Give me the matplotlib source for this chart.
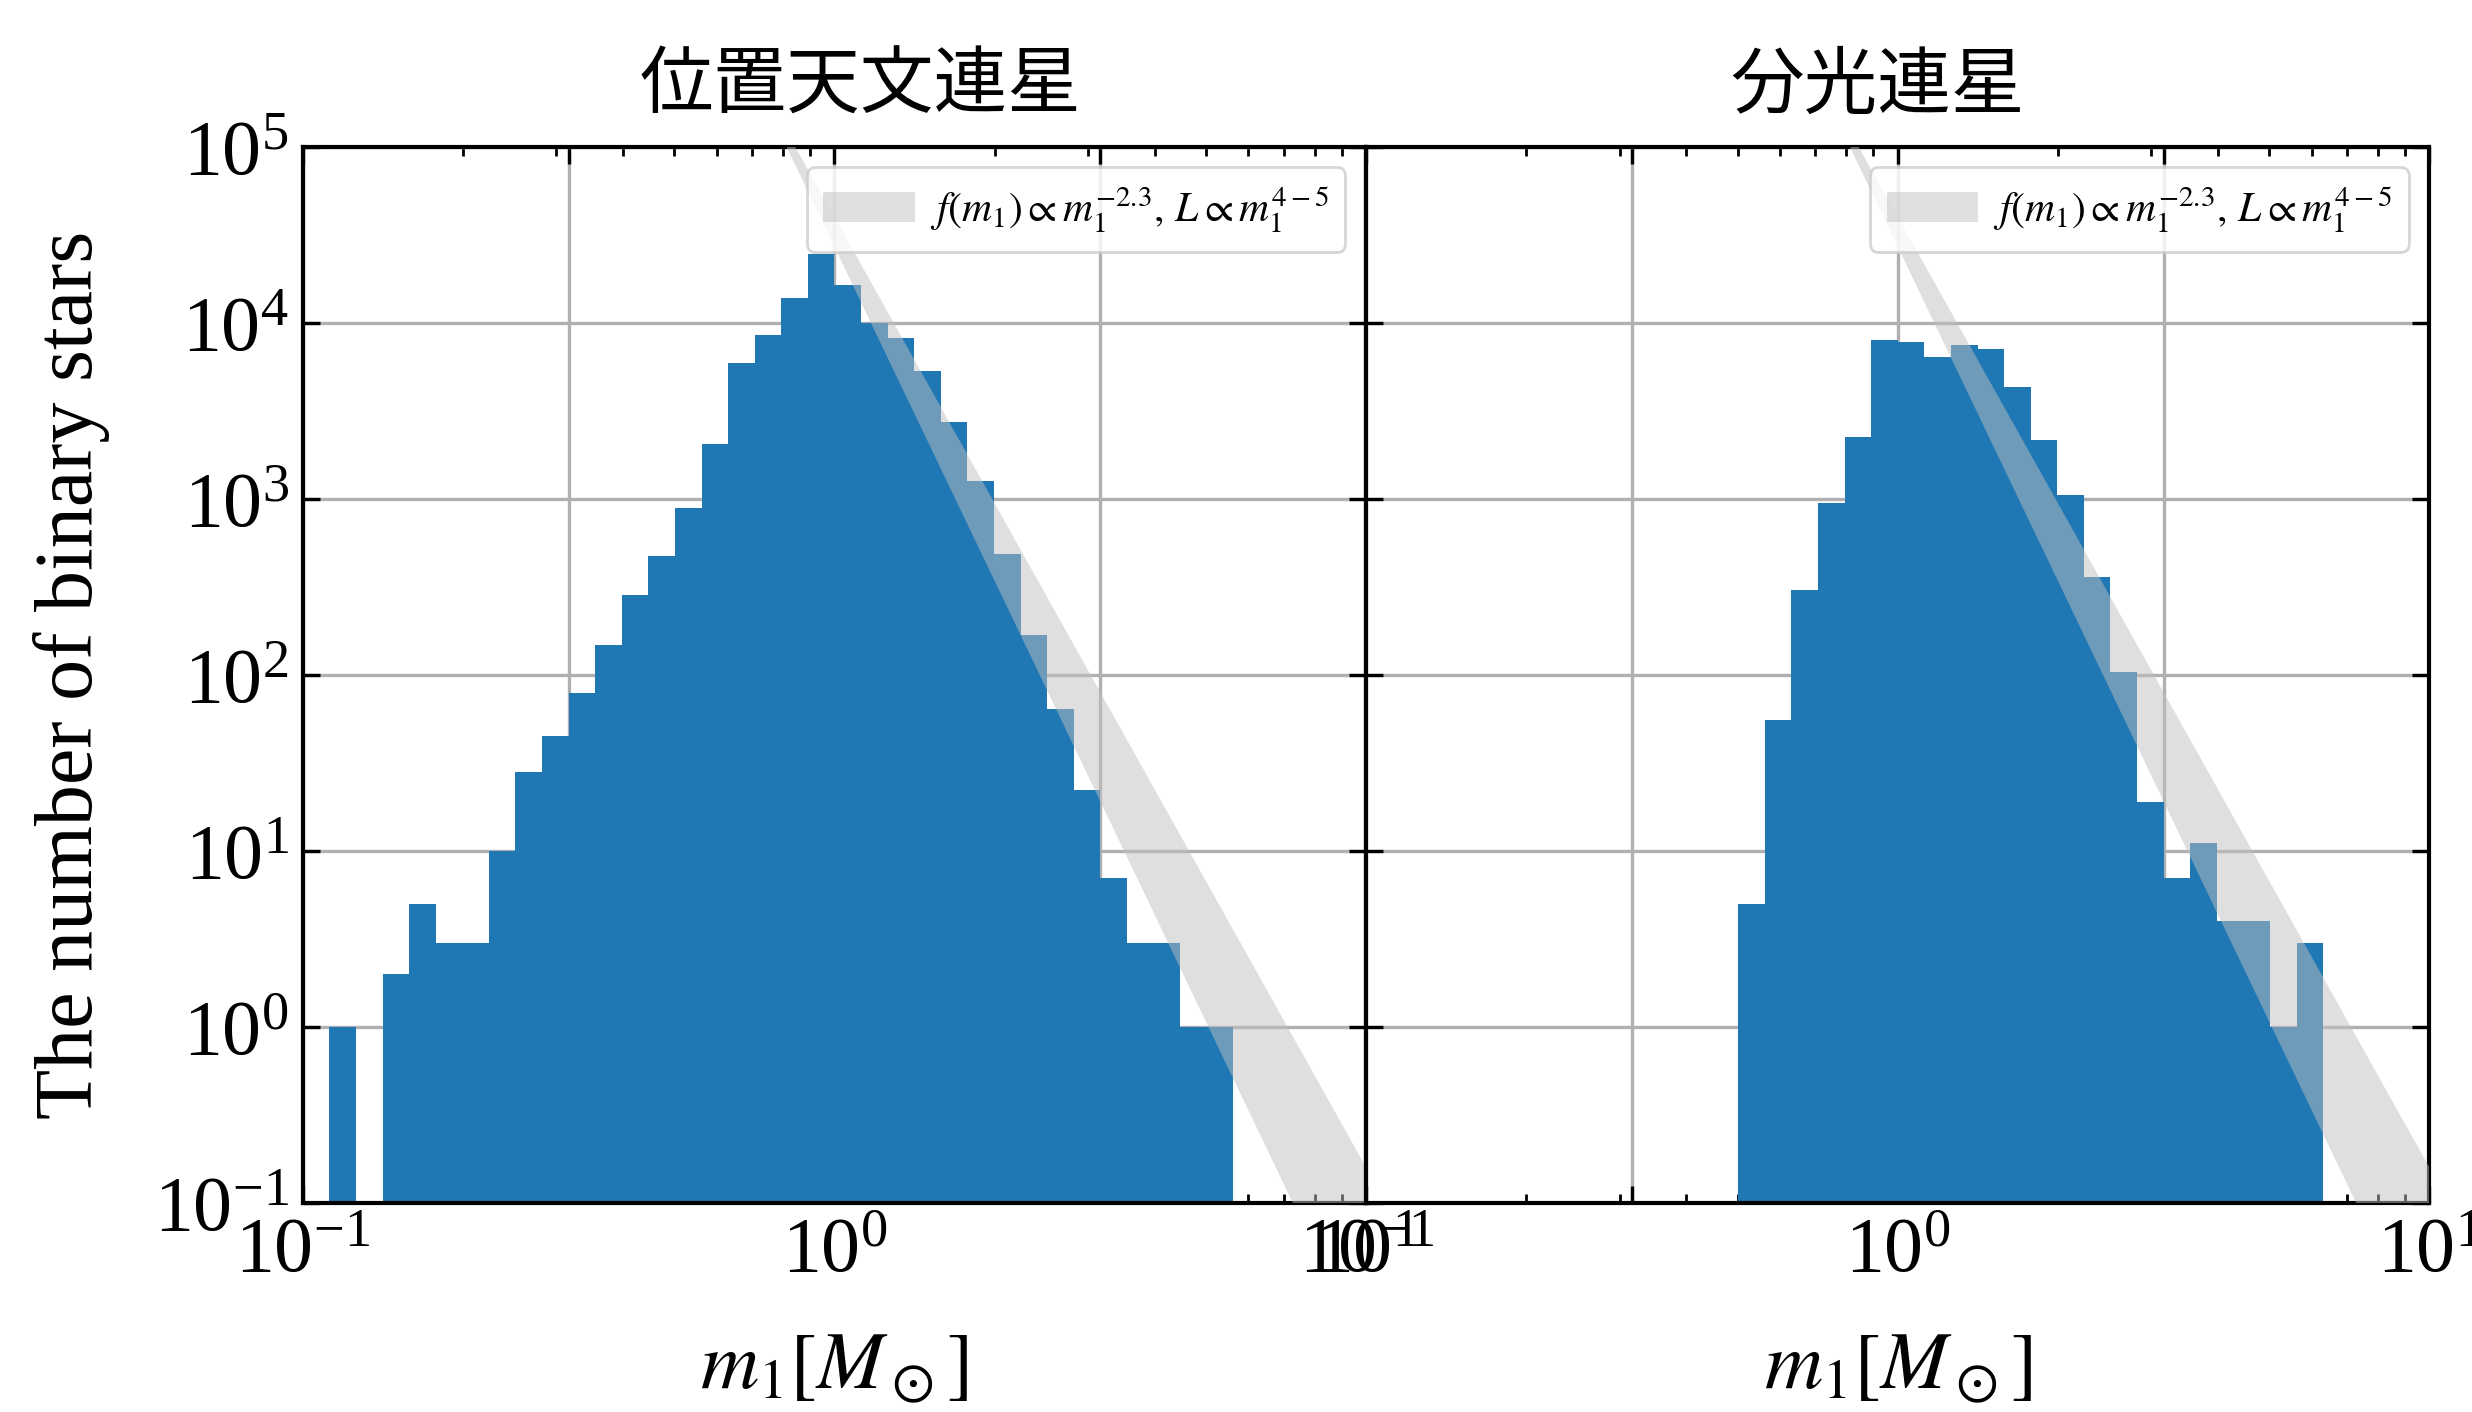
import matplotlib
matplotlib.use("Agg")
import matplotlib.pyplot as plt
import numpy as np
from matplotlib.ticker import FixedLocator, LogFormatterSciNotation, NullLocator

plt.rcParams["font.family"] = ["Liberation Serif", "Noto Sans CJK JP"]
plt.rcParams["mathtext.fontset"] = "stix"

# 質量ビン (log10 m1, 0.05 dex 刻み)
log_edges = np.arange(-1.0, 1.0001, 0.05)

# 位置天文連星の各ビンの個数
astrometric_counts = [0, 1, 0, 2, 5, 3, 3, 10, 28, 45,
                      79, 147, 282, 471, 885, 2048, 5875, 8506, 13840, 24400,
                      16400, 10000, 8130, 5320, 2730, 1259, 484, 169, 64, 22,
                      7, 3, 3, 1, 1, 0, 0, 0, 0, 0]

# 分光連星の各ビンの個数
spectroscopic_counts = [0, 0, 0, 0, 0, 0, 0, 0, 0, 0,
                        0, 0, 0, 0, 5, 55, 303, 943, 2237, 7980,
                        7770, 6370, 7500, 7100, 4330, 2160, 1050, 360, 103, 19,
                        7, 11, 4, 4, 1, 3, 0, 0, 0, 0]

titles = ["位置天文連星", "分光連星"]
title_x = [0.524, 0.481]

# f(m1) ∝ m1^-2.3, L ∝ m1^(4-5) から来る傾きの帯 (log10 振幅, べき)
band_upper = (4.60, -5.4)
band_lower = (4.43, -6.3)
band_label = r"$f(m_1)\propto m_1^{-2.3},\, L\propto m_1^{4-5}$"

edges = 10 ** log_edges
centers = np.sqrt(edges[:-1] * edges[1:])
m = np.logspace(-1, 1, 400)
upper = 10 ** band_upper[0] * m ** band_upper[1]
lower = 10 ** band_lower[0] * m ** band_lower[1]

fig, axes = plt.subplots(1, 2, figsize=(12.36, 7.06), dpi=200, sharey=True)
fig.subplots_adjust(left=0.1225, right=0.9828, bottom=0.1482, top=0.8962, wspace=0)

x_major = 10 ** np.arange(-1.0, 1.01, 0.5)
x_minor = np.concatenate([np.arange(2, 10) * 0.1, np.arange(2, 10) * 1.0])

for ax, counts, title, tx in zip(axes, [astrometric_counts, spectroscopic_counts], titles, title_x):
    ax.hist(centers, bins=edges, weights=counts, color="#1f77b4", zorder=1)
    ax.fill_between(m, lower, upper, color="silver", alpha=0.5, lw=0, zorder=3, label=band_label)
    ax.set_xscale("log")
    ax.set_yscale("log")
    ax.set_xlim(0.1, 10)
    ax.set_ylim(0.1, 1e5)
    ax.set_axisbelow(True)
    ax.grid(True, which="major", color="#b0b0b0", lw=1.2)

    ax.xaxis.set_major_locator(FixedLocator(x_major))
    ax.xaxis.set_major_formatter(LogFormatterSciNotation(labelOnlyBase=True))
    ax.xaxis.set_minor_locator(FixedLocator(x_minor))
    ax.yaxis.set_minor_locator(NullLocator())

    ax.tick_params(which="both", direction="in", top=True, right=True, labelsize=28)
    ax.tick_params(which="major", length=6, width=1.2, pad=5)
    ax.tick_params(which="minor", length=3.2, width=1.0)
    for s in ax.spines.values():
        s.set_linewidth(1.5)

    ax.set_title(title, fontsize=26.5, x=tx, pad=14)
    ax.set_xlabel(r"$m_1[M_\odot]$", fontsize=29, labelpad=16)
    ax.legend(loc="upper right", fontsize=15, handlelength=2.2, handletextpad=0.35)

axes[0].set_ylabel("The number of binary stars", fontsize=29.5, labelpad=16)

fig.savefig("out.png", dpi=200)
